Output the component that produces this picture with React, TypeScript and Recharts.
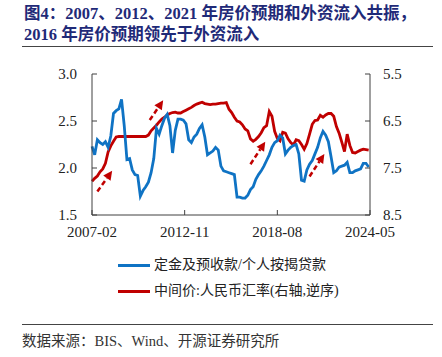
import React from "react";
import { LineChart, Line, XAxis, YAxis, ReferenceLine } from "recharts";

// series sampled every other month, starting 2007-02
const START = "2007-02";
const STEP = 2;

const xTickLabels = ["2007-02", "2012-11", "2018-08", "2024-05"];
const leftTicks = [1.5, 2.0, 2.5, 3.0];
const rightTicks = [5.5, 6.5, 7.5, 8.5];

// 定金及预收款/个人按揭贷款 (left axis)
const depositRatio = [
  2.23, 2.14, 2.3, 2.27, 2.25, 2.28, 2.22, 2.34, 2.58, 2.61,
  2.63, 2.73, 2.45, 2.09, 2.1, 1.98, 1.93, 1.92, 1.7, 1.76,
  1.8, 1.85, 1.95, 2.1, 2.42, 2.36, 2.45, 2.53, 2.57, 2.45,
  2.16, 2.4, 2.52, 2.52, 2.51, 2.47, 2.3, 2.27, 2.33, 2.36,
  2.42, 2.46, 2.33, 2.14, 2.16, 2.18, 2.22, 2.19, 2.02, 1.97,
  1.96, 1.95, 1.94, 1.93, 1.69, 1.69, 1.68, 1.68, 1.71, 1.77,
  1.8, 1.88, 1.93, 1.97, 2.02, 2.08, 2.14, 2.22, 2.27, 2.29,
  2.35, 2.32, 2.15, 2.19, 2.22, 2.24, 2.25, 2.15, 1.87, 1.86,
  1.98, 2.04, 2.08, 2.15, 2.22, 2.32, 2.39, 2.35, 2.28, 2.12,
  1.95, 1.97, 2.01, 2.02, 2.03, 2.06, 1.95, 1.95, 1.97, 1.98,
  1.99, 2.05, 2.05, 2.01,
];

// 中间价:人民币汇率 (right axis, reversed)
const usdcny = [
  7.78, 7.72, 7.67, 7.58, 7.52, 7.4, 7.16, 7.03, 6.93, 6.84,
  6.83, 6.83, 6.83, 6.83, 6.83, 6.83, 6.83, 6.83, 6.83, 6.83,
  6.83, 6.8, 6.71, 6.65, 6.59, 6.52, 6.46, 6.42, 6.37, 6.34,
  6.32, 6.31, 6.33, 6.33, 6.3, 6.27, 6.24, 6.21, 6.17, 6.14,
  6.12, 6.1, 6.13, 6.14, 6.15, 6.14, 6.14, 6.13, 6.12, 6.12,
  6.11, 6.25, 6.32, 6.42, 6.5, 6.52, 6.58, 6.67, 6.71, 6.88,
  6.93, 6.89, 6.83, 6.75, 6.64, 6.6, 6.3, 6.4, 6.72, 6.87,
  6.92, 6.74, 6.76, 6.88, 6.96, 7.01, 6.9, 6.92, 7.0, 7.1,
  6.98, 6.78, 6.57, 6.49, 6.48, 6.38, 6.42, 6.37, 6.34, 6.34,
  6.4, 6.62, 6.76, 6.95, 7.15, 6.78, 7.02, 7.17, 7.18, 7.15,
  7.12, 7.1, 7.11, 7.12,
];

// dashed annotation arrows, in (month, left-axis value)
const arrowTails = [["2007-06", 1.75], ["2010-09", 2.51], ["2016-12", 2.04], ["2020-08", 1.91]];
const arrowHeads = [["2008-05", 1.97], ["2011-07", 2.72], ["2017-11", 2.28], ["2021-07", 2.15]];

const BLUE = "#0f73c4";
const RED = "#c00000";
const AXIS = "#404040";
const serif = '"Liberation Serif", "Times New Roman", serif';
const cjk = '"Liberation Serif", "Noto Sans CJK SC", serif';

function monthIndex(s: string) {
  const [y, m] = s.split("-").map(Number);
  const [y0, m0] = START.split("-").map(Number);
  return (y - y0) * 12 + (m - m0);
}

function monthLabel(i: number) {
  const [y0, m0] = START.split("-").map(Number);
  const t = y0 * 12 + (m0 - 1) + i;
  const y = Math.floor(t / 12);
  const m = (t % 12) + 1;
  return `${y}-${String(m).padStart(2, "0")}`;
}

const data = depositRatio.map((v, i) => ({ m: i * STEP, ratio: v, fx: usdcny[i] }));

const LeftTick = (props: any) => {
  const { x, y, payload } = props;
  return (
    <g>
      <line x1={x + 15} x2={x + 20} y1={y} y2={y} stroke={AXIS} />
      <text x={x} y={y} dy={5} textAnchor="end" fontSize={15} fontFamily={serif} fill="#222">
        {payload.value.toFixed(1)}
      </text>
    </g>
  );
};

const RightTick = (props: any) => {
  const { x, y, payload } = props;
  return (
    <g>
      <line x1={x - 13} x2={x - 18} y1={y} y2={y} stroke={AXIS} />
      <text x={x} y={y} dy={5} textAnchor="start" fontSize={15} fontFamily={serif} fill="#222">
        {payload.value.toFixed(1)}
      </text>
    </g>
  );
};

const BottomTick = (props: any) => {
  const { x, y, payload } = props;
  return (
    <g>
      <line x1={x} x2={x} y1={y} y2={y - 5} stroke={AXIS} />
      <text x={x} y={y + 22} textAnchor="middle" fontSize={15} fontFamily={serif} fill="#222">
        {monthLabel(payload.value)}
      </text>
    </g>
  );
};

const Arrow = (props: any) => {
  const { x1, y1, x2, y2 } = props;
  const dx = x2 - x1;
  const dy = y2 - y1;
  const len = Math.sqrt(dx * dx + dy * dy) || 1;
  const ux = dx / len;
  const uy = dy / len;
  const head = 9;
  const half = 4.5;
  const bx = x2 - ux * head;
  const by = y2 - uy * head;
  return (
    <g>
      <line x1={x1} y1={y1} x2={bx} y2={by} stroke={RED} strokeWidth={2.5} strokeDasharray="5 3" />
      <polygon
        points={`${x2},${y2} ${bx - uy * half},${by + ux * half} ${bx + uy * half},${by - ux * half}`}
        fill={RED}
      />
    </g>
  );
};

export default function App() {
  const xTicks = xTickLabels.map(monthIndex);
  return (
    <div style={{ position: "absolute", left: 0, top: 0, width: 442, height: 357, background: "#fff", fontFamily: cjk }}>
      <div style={{ position: "absolute", left: 24, top: 3, fontSize: 16.5, fontWeight: 700, color: "#1f2a78", lineHeight: "21px", whiteSpace: "nowrap" }}>
        <div>图4：2007、2012、2021 年房价预期和外资流入共振，</div>
        <div>2016 年房价预期领先于外资流入</div>
      </div>
      <div style={{ position: "absolute", left: 22, top: 46, width: 411, height: 1, background: "#444" }} />

      <div style={{ position: "absolute", left: 0, top: 0 }}>
        <LineChart width={442} height={240} data={data} margin={{ top: 74, right: 0, bottom: 0, left: 0 }}>
          <XAxis
            dataKey="m"
            type="number"
            domain={[0, 207]}
            ticks={xTicks}
            tick={<BottomTick />}
            tickSize={0}
            tickMargin={0}
            height={25}
            stroke={AXIS}
            interval={0}
          />
          <YAxis
            yAxisId="left"
            orientation="left"
            domain={[1.5, 3.0]}
            ticks={leftTicks}
            tick={<LeftTick />}
            tickSize={0}
            tickMargin={15}
            width={92}
            stroke={AXIS}
            interval={0}
          />
          <YAxis
            yAxisId="right"
            orientation="right"
            domain={[5.5, 8.5]}
            reversed
            ticks={rightTicks}
            tick={<RightTick />}
            tickSize={0}
            tickMargin={13}
            width={72}
            stroke={AXIS}
            interval={0}
          />
          <Line yAxisId="right" dataKey="fx" stroke={RED} strokeWidth={2.8} dot={false} isAnimationActive={false} />
          <Line yAxisId="left" dataKey="ratio" stroke={BLUE} strokeWidth={2.8} dot={false} isAnimationActive={false} />
          {arrowTails.map((t, i) => (
            <ReferenceLine
              key={i}
              yAxisId="left"
              ifOverflow="visible"
              segment={[
                { x: monthIndex(t[0] as string), y: t[1] as number },
                { x: monthIndex(arrowHeads[i][0] as string), y: arrowHeads[i][1] as number },
              ]}
              shape={(p: any) => <Arrow {...p} />}
            />
          ))}
        </LineChart>
      </div>

      <div style={{ position: "absolute", left: 118, top: 252, fontSize: 14, color: "#222", lineHeight: "26px" }}>
        <div style={{ display: "flex", alignItems: "center" }}>
          <span style={{ width: 32, height: 3, background: BLUE, marginRight: 4 }} />
          定金及预收款/个人按揭贷款
        </div>
        <div style={{ display: "flex", alignItems: "center" }}>
          <span style={{ width: 32, height: 3, background: RED, marginRight: 4 }} />
          中间价:人民币汇率(右轴,逆序)
        </div>
      </div>

      <div style={{ position: "absolute", left: 22, top: 324, width: 411, height: 1, background: "#444" }} />
      <div style={{ position: "absolute", left: 22, top: 329, fontSize: 14.5, color: "#333", whiteSpace: "nowrap" }}>
        数据来源：BIS、Wind、开源证券研究所
      </div>
    </div>
  );
}
